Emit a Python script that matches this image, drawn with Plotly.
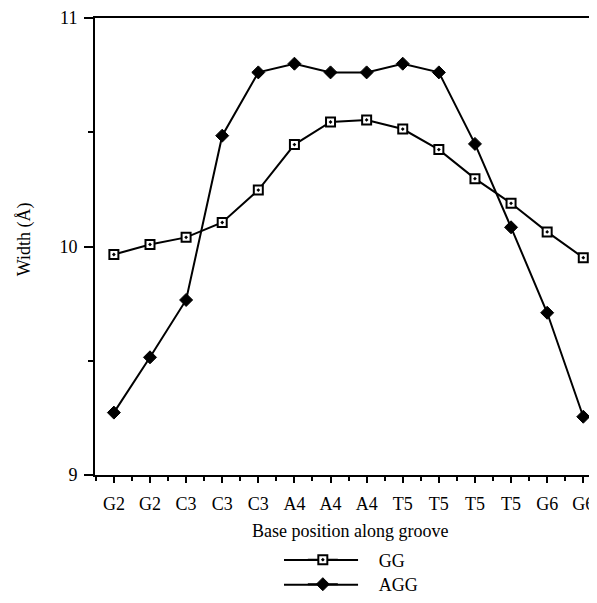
import plotly.graph_objects as go

categories = ["G2", "G2", "C3", "C3", "C3", "A4", "A4", "A4", "T5", "T5", "T5", "T5", "G6", "G6"]
gg_values = [9.965, 10.009, 10.040, 10.105, 10.247, 10.446, 10.545, 10.554, 10.514, 10.424, 10.297, 10.189, 10.064, 9.951]
agg_values = [9.273, 9.515, 9.766, 10.485, 10.762, 10.800, 10.762, 10.762, 10.800, 10.762, 10.449, 10.084, 9.710, 9.255]

positions = list(range(len(categories)))
FONT = "Liberation Serif"
PAD = "\u00a0" * 8

fig = go.Figure()
fig.add_trace(go.Scatter(
    x=positions, y=gg_values, mode="lines+markers", name=PAD + "GG",
    line=dict(color="black", width=2),
    marker=dict(symbol="square-dot", size=9, color="white", line=dict(color="black", width=2)),
    legend="legend",
))
fig.add_trace(go.Scatter(
    x=positions, y=agg_values, mode="lines+markers", name=PAD + "AGG",
    line=dict(color="black", width=2),
    marker=dict(symbol="diamond", size=10, color="black", line=dict(color="black", width=1)),
    legend="legend2",
))

# legend key lines (decoration, extended to match the reference's long keys)
legend_key_rows = [-0.186, -0.240]
shapes = [dict(type="line", xref="paper", yref="paper", x0=0.3765, x1=0.524, y0=yy, y1=yy,
               line=dict(color="black", width=2)) for yy in legend_key_rows]

fig.update_layout(
    width=589, height=595,
    margin=dict(l=87, r=0, t=8, b=125),
    plot_bgcolor="white", paper_bgcolor="white",
    font=dict(family=FONT, size=18, color="black"),
    showlegend=True,
    legend=dict(x=0.414, y=-0.186, xanchor="left", yanchor="middle", bgcolor="rgba(0,0,0,0)",
                font=dict(family=FONT, size=18)),
    legend2=dict(x=0.414, y=-0.240, xanchor="left", yanchor="middle", bgcolor="rgba(0,0,0,0)",
                 font=dict(family=FONT, size=18)),
    shapes=shapes,
    xaxis=dict(
        range=[-0.523, 13.38], tickmode="array", tickvals=positions, ticktext=categories,
        ticks="outside", ticklen=6, tickwidth=2, tickcolor="black",
        showline=True, linecolor="black", linewidth=2, mirror=True,
        showgrid=False, zeroline=False, ticklabeloverflow="allow",
        minor=dict(tickmode="array", tickvals=[p + 0.5 for p in positions[:-1]] + [-0.5],
                   ticks="outside", ticklen=4, tickwidth=1.5, tickcolor="black"),
        tickfont=dict(family=FONT, size=18),
        ticklabelstandoff=5,
    ),
    yaxis=dict(
        range=[9, 11], tickmode="array", tickvals=[9, 10, 11], ticktext=["9", "10", "11"],
        ticks="outside", ticklen=9, tickwidth=2, tickcolor="black",
        showline=True, linecolor="black", linewidth=2, mirror=False,
        showgrid=False, zeroline=False, ticklabeloverflow="allow",
        minor=dict(tickmode="array", tickvals=[9.5, 10.5], ticks="outside", ticklen=5,
                   tickwidth=1.5, tickcolor="black"),
        tickfont=dict(family=FONT, size=18),
        ticklabelstandoff=3,
    ),
    annotations=[
        dict(text="Width (Å)", xref="paper", yref="paper", x=-0.14, y=0.515,
             xanchor="center", yanchor="middle", textangle=-90, showarrow=False,
             font=dict(family=FONT, size=18)),
        dict(text="Base position along groove", xref="paper", yref="paper", x=0.508, y=-0.122,
             xanchor="center", yanchor="middle", showarrow=False,
             font=dict(family=FONT, size=18)),
    ],
)

fig.write_html("out.html")
